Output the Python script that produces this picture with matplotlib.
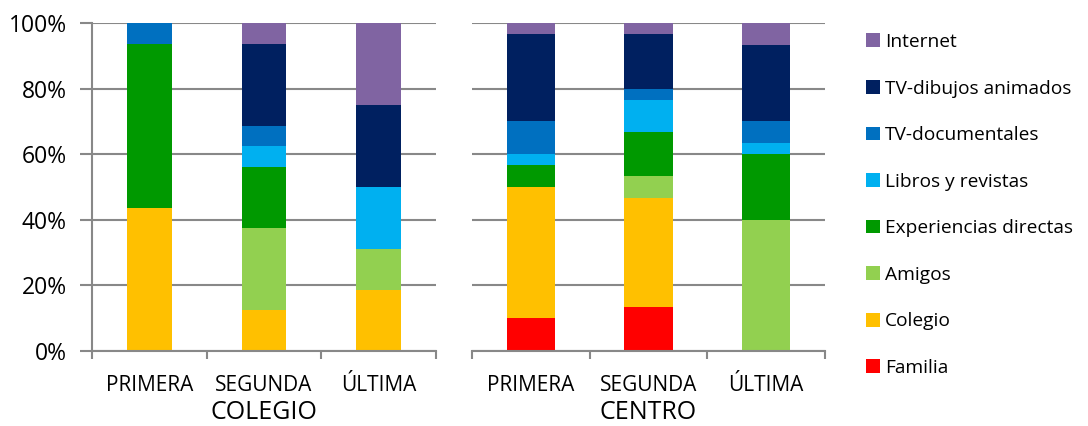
import matplotlib
matplotlib.use('Agg')
import matplotlib.pyplot as plt
from matplotlib.patches import Patch
import numpy as np

plt.rcParams['font.family'] = ['Open Sans', 'DejaVu Sans']

categorias = ['PRIMERA', 'SEGUNDA', 'ÚLTIMA']
fuentes = ['Familia', 'Colegio', 'Amigos', 'Experiencias directas',
           'Libros y revistas', 'TV-documentales', 'TV-dibujos animados', 'Internet']
colores = ['#FF0000', '#FFC000', '#92D050', '#009900',
           '#00B0F0', '#0070C0', '#002060', '#8064A2']

# porcentajes por fuente (PRIMERA, SEGUNDA, ÚLTIMA)
colegio_familia = [0, 0, 0]
colegio_colegio = [43.75, 12.5, 18.75]
colegio_amigos = [0, 25.0, 12.5]
colegio_experiencias = [50.0, 18.75, 0]
colegio_libros = [0, 6.25, 18.75]
colegio_tvdoc = [6.25, 6.25, 0]
colegio_tvdib = [0, 25.0, 25.0]
colegio_internet = [0, 6.25, 25.0]

centro_familia = [10.0, 13.33, 0]
centro_colegio = [40.0, 33.33, 0]
centro_amigos = [0, 6.67, 40.0]
centro_experiencias = [6.67, 13.33, 20.0]
centro_libros = [3.33, 10.0, 3.33]
centro_tvdoc = [10.0, 3.33, 6.67]
centro_tvdib = [26.67, 16.67, 23.33]
centro_internet = [3.33, 3.33, 6.67]

colegio = [colegio_familia, colegio_colegio, colegio_amigos, colegio_experiencias,
           colegio_libros, colegio_tvdoc, colegio_tvdib, colegio_internet]
centro = [centro_familia, centro_colegio, centro_amigos, centro_experiencias,
          centro_libros, centro_tvdoc, centro_tvdib, centro_internet]

W, H = 1088, 426
fig = plt.figure(figsize=(W / 100, H / 100), dpi=100)
ax1 = fig.add_axes([92 / W, (H - 351) / H, (436 - 92) / W, 328 / H])
ax2 = fig.add_axes([472 / W, (H - 351) / H, (825 - 472) / W, 328 / H])

grid_col = '#888888'
x = np.arange(3)
for ax, datos, titulo, ancho in [(ax1, colegio, 'COLEGIO', 0.39), (ax2, centro, 'CENTRO', 0.41)]:
    base = np.zeros(3)
    for vals, col in zip(datos, colores):
        v = np.array(vals)
        ax.bar(x, v, ancho, bottom=base, color=col, zorder=3)
        base += v
    ax.set_xlim(-0.5, 2.5)
    ax.set_ylim(0, 100)
    ax.set_yticks([0, 20, 40, 60, 80, 100])
    ax.yaxis.grid(True, color=grid_col, linewidth=1.5, zorder=0)
    for s in ['top', 'right', 'left']:
        ax.spines[s].set_visible(False)
    ax.spines['bottom'].set_color(grid_col)
    ax.spines['bottom'].set_linewidth(1.5)
    ax.spines['bottom'].set_zorder(4)
    ax.set_xticks(x)
    ax.set_xticklabels(categorias, fontsize=15)
    ax.set_xticks([-0.5, 0.5, 1.5, 2.5], minor=True)
    ax.tick_params(axis='x', which='major', length=0, pad=17)
    ax.tick_params(axis='x', which='minor', length=6, width=1.5, color=grid_col)
    ax.set_xlabel(titulo, fontsize=18, labelpad=3)

ax1.spines['left'].set_visible(True)
ax1.spines['left'].set_color(grid_col)
ax1.spines['left'].set_linewidth(1.5)
ax1.set_yticklabels(['0%', '20%', '40%', '60%', '80%', '100%'], fontsize=16.5)
ax1.tick_params(axis='y', length=9, width=1.5, color=grid_col, pad=9)
ax2.tick_params(axis='y', length=0, labelleft=False)

handles = [Patch(facecolor=c, edgecolor='none') for c in colores]
fig.legend(handles[::-1], fuentes[::-1], loc='upper left',
           bbox_to_anchor=(866 / W, 1 - 33 / H), frameon=False,
           fontsize=13.8, handlelength=0.73, handleheight=0.73,
           handletextpad=0.25, labelspacing=1.49, borderpad=0,
           borderaxespad=0)

fig.savefig('out.png', dpi=100)
